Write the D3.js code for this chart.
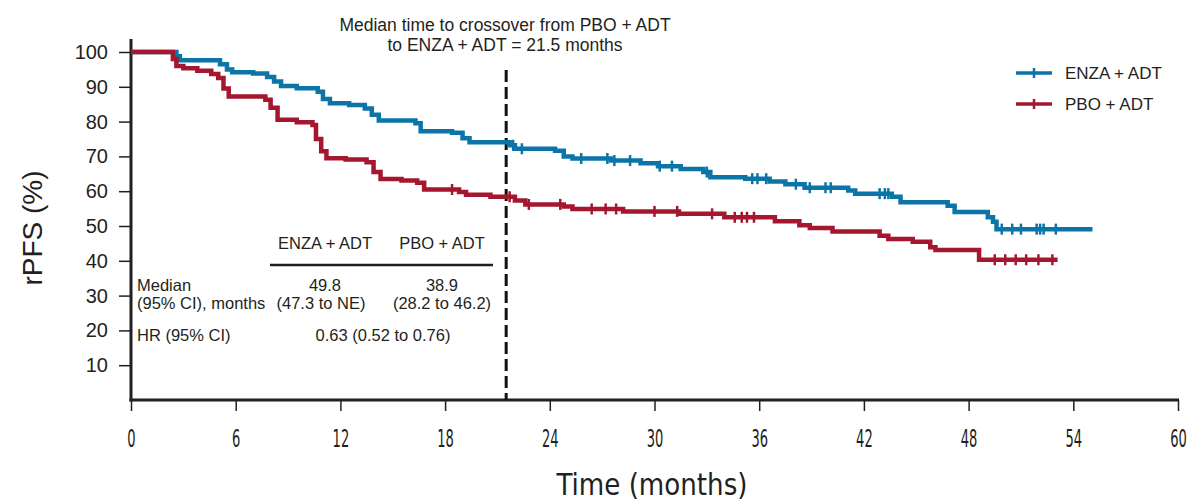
<!DOCTYPE html>
<html lang="en">
<head>
<meta charset="UTF-8">
<title>rPFS</title>
<script src="https://d3js.org/d3.v7.min.js"></script>
<style>
    body { margin: 0; background: #fff; }
    svg { display: block; }
    text { font-family: "Liberation Sans", Arial, sans-serif; fill: #231f20; }
</style>
</head>
<body>
<svg width="1191" height="503"></svg>
<script>
    // step points: [month, rPFS %]
    const enzaSteps = [[0,100],[2.6,98.8],[2.8,97.6],[5.1,96.5],[5.5,95],[5.8,94.2],[7.0,93.8],[7.8,92.8],[8.2,91.5],[8.6,90.2],[9.5,89.6],[10.7,88.6],[11.0,86.5],[11.4,85.3],[12.5,84.8],[13.4,83.8],[13.8,82],[14.2,80.3],[16.3,79.5],[16.6,77.2],[18.4,76.8],[19.0,75.2],[19.4,74.1],[21.7,73.2],[22.0,72.2],[24.3,71.6],[24.8,70],[25.3,69.4],[27.5,68.8],[29.2,68],[30.2,67.2],[31.5,66.4],[32.8,65.5],[33.2,64],[35.2,63.6],[36.6,62.8],[37.5,62],[38.6,61],[41.1,60.2],[41.5,59.3],[43.6,58.4],[44.1,56.8],[46.8,55.8],[47.2,54],[49.1,52.5],[49.4,51.2],[49.6,49.1],[55.1,49.1]];
    const pboSteps = [[0,100],[2.4,98],[2.6,96],[3.0,95.3],[3.8,94.6],[4.6,93.7],[5.0,92.5],[5.3,89.5],[5.6,87.2],[7.7,86.3],[8.0,84],[8.4,80.5],[9.5,79.8],[10.4,79],[10.6,75],[10.9,71.5],[11.2,69.5],[12.3,69.1],[13.5,68.3],[13.9,65.5],[14.3,63.5],[15.5,63.1],[16.4,62.4],[16.8,60.5],[18.8,59.8],[19.2,59],[20.6,58.4],[22.0,57.3],[22.6,56.2],[24.8,55.6],[25.3,54.9],[28.2,54.2],[31.4,53.5],[34.0,52.5],[36.9,51.4],[38.3,50.2],[38.9,49.4],[40.2,48.4],[42.9,47.2],[43.4,46.3],[44.8,45.5],[45.8,43.9],[46.1,43.1],[48.6,40.3],[53.1,40.3]];

    // censor marks (months)
    const enzaCensor = [21.9,22.4,25.8,27.3,27.7,28.6,30.3,31.0,33.0,35.6,35.9,36.4,38.1,38.9,39.8,40.1,42.9,43.2,43.4,49.9,50.5,51.0,51.9,52.1,52.3,53.0];
    const pboCensor = [18.4,21.7,22.8,24.6,26.4,27.2,27.8,30.0,31.3,33.3,34.6,35.0,35.3,35.7,49.5,50.1,50.7,51.3,52.0,52.8];

    const xTicks = [0,6,12,18,24,30,36,42,48,54,60];
    const yTicks = [10,20,30,40,50,60,70,80,90,100];
    const crossover = 21.5;

    const arms = [
        { name: "ENZA + ADT", steps: enzaSteps, censor: enzaCensor, color: "#0a75a6" },
        { name: "PBO + ADT", steps: pboSteps, censor: pboCensor, color: "#a5162f" }
    ];

    const svg = d3.select("svg");
    const x = d3.scaleLinear().domain([0, 60]).range([131, 1178]);
    const y = d3.scaleLinear().domain([0, 100]).range([400, 52]);

    // axes
    const xAxis = svg.append("g").attr("transform", "translate(0,400)")
        .call(d3.axisBottom(x).tickValues(xTicks).tickSize(11).tickSizeOuter(0));
    xAxis.select(".domain").remove();
    xAxis.selectAll(".tick line").attr("stroke", "#231f20").attr("stroke-width", 1.5);
    xAxis.selectAll(".tick text")
        .attr("y", 47).attr("dy", 0)
        .style("font-family", "'Liberation Sans Narrow', 'DejaVu Sans Condensed', sans-serif")
        .style("font-size", "24px")
        .attr("textLength", d => String(d).length * 8.3)
        .attr("lengthAdjust", "spacingAndGlyphs");

    const yAxis = svg.append("g").attr("transform", "translate(131,0)")
        .call(d3.axisLeft(y).tickValues(yTicks).tickSize(12).tickSizeOuter(0));
    yAxis.select(".domain").remove();
    yAxis.selectAll(".tick line").attr("stroke", "#231f20").attr("stroke-width", 1.5);
    yAxis.selectAll(".tick text").attr("x", -23).style("font-size", "20px");

    svg.append("line").attr("x1", 131).attr("x2", 131).attr("y1", 39).attr("y2", 401.5)
        .attr("stroke", "#231f20").attr("stroke-width", 3);
    svg.append("line").attr("x1", 129.5).attr("x2", x(60) + 1).attr("y1", 400).attr("y2", 400)
        .attr("stroke", "#231f20").attr("stroke-width", 3);

    // axis titles
    svg.append("text").attr("transform", "translate(42,228) rotate(-90)")
        .attr("text-anchor", "middle").style("font-size", "28px").text("rPFS (%)");
    svg.append("text").attr("x", 652).attr("y", 495).attr("text-anchor", "middle")
        .style("font-family", "'Liberation Sans Narrow', 'DejaVu Sans Condensed', sans-serif")
        .style("font-size", "30px")
        .attr("textLength", 191).attr("lengthAdjust", "spacingAndGlyphs")
        .text("Time (months)");

    // crossover line
    svg.append("line").attr("x1", x(crossover)).attr("x2", x(crossover))
        .attr("y1", 70).attr("y2", 400)
        .attr("stroke", "#111").attr("stroke-width", 3).attr("stroke-dasharray", "12,5");
    svg.append("text").attr("x", 505).attr("y", 31).attr("text-anchor", "middle")
        .style("font-size", "17.5px").text("Median time to crossover from PBO + ADT");
    svg.append("text").attr("x", 505).attr("y", 51).attr("text-anchor", "middle")
        .style("font-size", "17.5px").text("to ENZA + ADT = 21.5 months");

    // curves
    const line = d3.line().x(d => x(d[0])).y(d => y(d[1])).curve(d3.curveStepAfter);
    function valueAt(steps, t) {
        let v = steps[0][1];
        for (const s of steps) { if (s[0] <= t) v = s[1]; }
        return v;
    }
    arms.forEach(a => {
        svg.append("path").datum(a.steps).attr("d", line)
            .attr("fill", "none").attr("stroke", a.color).attr("stroke-width", 4.5);
        svg.selectAll(null).data(a.censor).enter().append("line")
            .attr("x1", d => x(d)).attr("x2", d => x(d))
            .attr("y1", d => y(valueAt(a.steps, d)) - 5.5)
            .attr("y2", d => y(valueAt(a.steps, d)) + 5.5)
            .attr("stroke", a.color).attr("stroke-width", 2.5);
    });

    // legend
    const legend = svg.append("g");
    arms.forEach((a, i) => {
        const ly = 73 + i * 31;
        legend.append("line").attr("x1", 1016).attr("x2", 1052).attr("y1", ly).attr("y2", ly)
            .attr("stroke", a.color).attr("stroke-width", 3.5);
        legend.append("line").attr("x1", 1034).attr("x2", 1034).attr("y1", ly - 5).attr("y2", ly + 5)
            .attr("stroke", a.color).attr("stroke-width", 2.5);
        legend.append("text").attr("x", 1065).attr("y", ly + 6)
            .style("font-size", "17px").text(a.name);
    });

    // summary table
    const tbl = svg.append("g").style("font-size", "16.5px");
    const colX = [325, 442];
    arms.forEach((a, i) => {
        tbl.append("text").attr("x", colX[i]).attr("y", 249).attr("text-anchor", "middle").text(a.name);
    });
    svg.append("line").attr("x1", 270).attr("x2", 493).attr("y1", 265).attr("y2", 265)
        .attr("stroke", "#231f20").attr("stroke-width", 2.5);
    const medians = ["49.8", "38.9"];
    const medianCI = ["(47.3 to NE)", "(28.2 to 46.2)"];
    tbl.append("text").attr("x", 137).attr("y", 291).text("Median");
    tbl.append("text").attr("x", 137).attr("y", 309).text("(95% CI), months");
    medians.forEach((m, i) => {
        tbl.append("text").attr("x", colX[i]).attr("y", 291).attr("text-anchor", "middle").text(m);
        tbl.append("text").attr("x", i === 0 ? 321 : 442).attr("y", 309).attr("text-anchor", "middle").text(medianCI[i]);
    });
    tbl.append("text").attr("x", 137).attr("y", 341).text("HR (95% CI)");
    tbl.append("text").attr("x", 383).attr("y", 341).attr("text-anchor", "middle").text("0.63 (0.52 to 0.76)");
</script>
</body>
</html>
